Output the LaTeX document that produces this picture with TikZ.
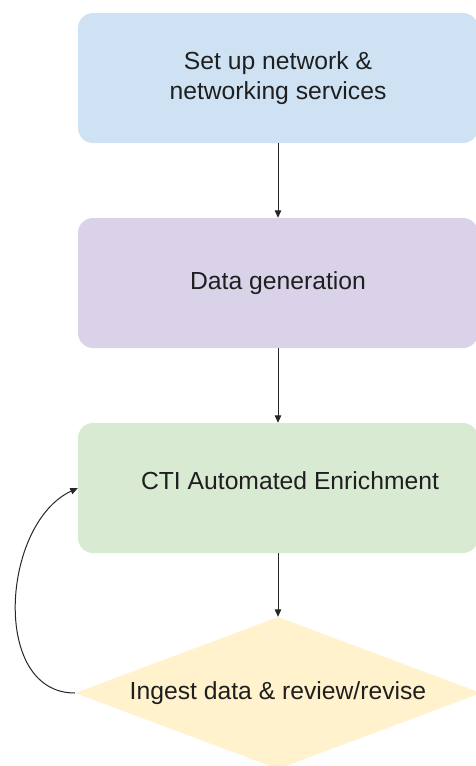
\documentclass[tikz,border=0pt]{standalone}
\usepackage{fontspec}
\setmainfont{Liberation Sans}
\usetikzlibrary{arrows.meta,shapes.geometric}
\definecolor{skyblue}{HTML}{CFE2F3}
\definecolor{lilac}{HTML}{D9D2E9}
\definecolor{mint}{HTML}{D9EAD3}
\definecolor{cream}{HTML}{FFF2CC}
\definecolor{ink}{HTML}{1F1F1F}
\begin{document}
\begin{tikzpicture}[
    x=1pt, y=1pt,
    every node/.style={font=\fontsize{24.7}{30.5}\selectfont, text=ink},
    stagebox/.style={rectangle, rounded corners=15pt, minimum width=400pt,
        minimum height=130pt, align=center, inner sep=0pt},
    decision/.style={diamond, aspect=2.7, minimum width=406pt,
        minimum height=152pt, inner sep=0pt, fill=cream},
    flow/.style={-{Triangle[length=7.5pt, width=6.5pt]}, line width=1pt, black!85},
]
\useasboundingbox (0,0) rectangle (476,-766);
\clip (0,0) rectangle (476,-766);

% Network setup
\node[stagebox, fill=skyblue] (setup) at (278,-78) {Set up network \&\\networking services};

% Data generation
\node[stagebox, fill=lilac] (datagen) at (278,-283) {Data generation};

% Enrichment
\node[stagebox, fill=mint] (enrich) at (278,-488) {\hspace*{24pt}\raisebox{14pt}{CTI Automated Enrichment}};

% Ingest / review
\node[decision] (ingest) at (278,-693) {Ingest data \& review/revise};

% Arrows
\draw[flow] (setup) -- (datagen);
\draw[flow] (datagen) -- (enrich);
\draw[flow] (enrich) -- (ingest);

% Feedback loop
\draw[flow] (ingest.west) to[out=180, in=205, looseness=1.05] (enrich.west);

\end{tikzpicture}
\end{document}
